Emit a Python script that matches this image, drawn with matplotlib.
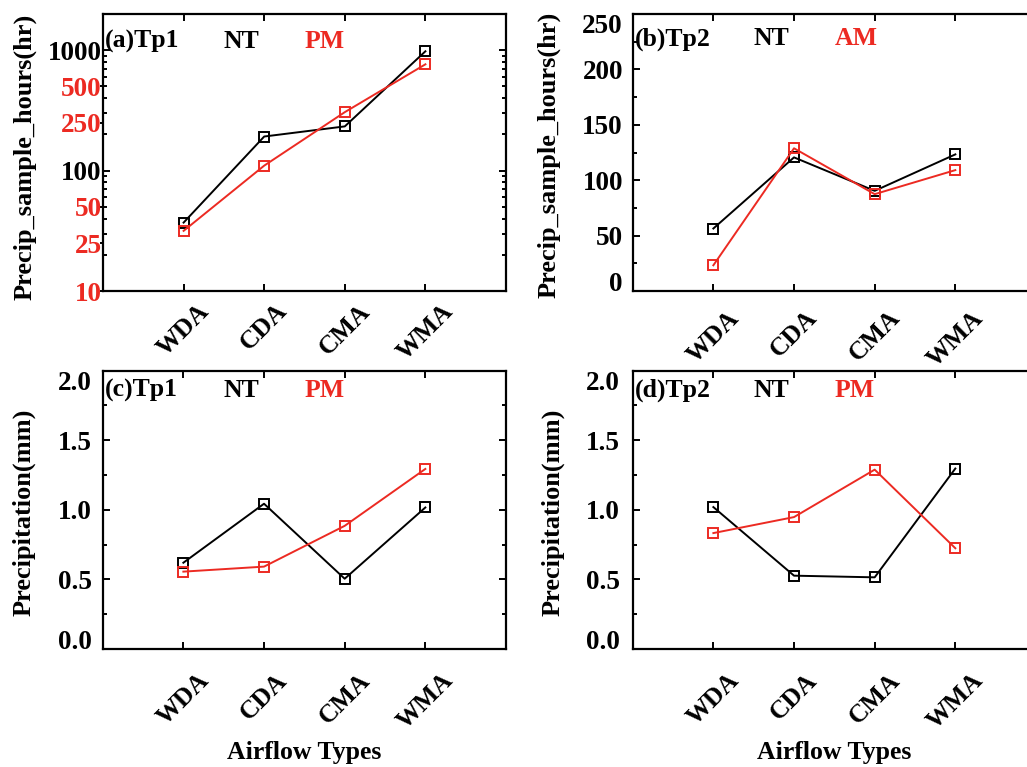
import numpy as np
import matplotlib
matplotlib.use("Agg")
import matplotlib.pyplot as plt
from matplotlib import lines as mlines
from matplotlib.ticker import FixedLocator, LogLocator, NullFormatter

plt.rcParams['font.family'] = ['Liberation Serif', 'DejaVu Serif']
plt.rcParams['font.weight'] = 'bold'

RED = '#ec2a22'
W, H = 1027, 767

# data
airflow_types = ['WDA', 'CDA', 'CMA', 'WMA']

tp1_hours_nt = [37, 192, 233, 980]
tp1_hours_pm = [31.6, 110, 306, 764]
tp2_hours_nt = [56.4, 120.6, 90.4, 123.3]
tp2_hours_am = [23.2, 128.8, 87.4, 109.1]
tp1_precip_nt = [0.62, 1.044, 0.505, 1.017]
tp1_precip_pm = [0.556, 0.592, 0.885, 1.294]
tp2_precip_nt = [1.02, 0.527, 0.515, 1.297]
tp2_precip_pm = [0.833, 0.948, 1.289, 0.724]

log_ticks = [10, 25, 50, 100, 250, 500, 1000]
log_black = [100, 1000]
hour_ticks = [0, 50, 100, 150, 200, 250]
precip_ticks = [0.0, 0.5, 1.0, 1.5, 2.0]


def px_axes(fig, left, top, right, bottom):
    return fig.add_axes([left / W, 1 - bottom / H, (right - left) / W, (bottom - top) / H])


def style_axes(ax, xpad):
    x = np.arange(1, len(airflow_types) + 1)
    ax.set_xlim(0, 5)
    ax.set_xticks(x)
    ax.set_xticklabels(airflow_types, rotation=45, ha='center', fontsize=18.5)
    ax.tick_params(axis='x', direction='in', top=True, length=5, width=1.4, pad=xpad)
    ax.tick_params(axis='y', which='both', direction='in', right=True, width=1.4)
    ax.tick_params(axis='y', which='major', length=5, labelsize=19.5)
    ax.tick_params(axis='y', which='minor', length=3)
    for sp in ax.spines.values():
        sp.set_linewidth(1.6)


def draw_lines(ax, black, red):
    x = np.arange(1, len(airflow_types) + 1)
    ax.plot(x, black, color='black', lw=1.4, marker='s', ms=7, mfc='none', mew=1.4)
    ax.plot(x, red, color=RED, lw=1.4, marker='s', ms=7, mfc='none', mew=1.4)


def panel_text(ax, y, tag, red_name):
    ax.text(0.005, y, tag, transform=ax.transAxes, ha='left', va='center', fontsize=18.5)
    ax.text(0.30, y, 'NT', transform=ax.transAxes, ha='left', va='center', fontsize=18.5)
    ax.text(0.50, y, red_name, transform=ax.transAxes, ha='left', va='center', fontsize=18.5, color=RED)


def linear_y(ax, ticks, minor_step, fmt, pad):
    ax.set_ylim(ticks[0], ticks[-1])
    ax.yaxis.set_major_locator(FixedLocator(ticks))
    ax.yaxis.set_minor_locator(FixedLocator(np.arange(ticks[0], ticks[-1] + 1e-9, minor_step)))
    ax.set_yticklabels([fmt % v for v in ticks])
    ax.tick_params(axis='y', which='major', pad=pad)
    tks = ax.yaxis.get_major_ticks(len(ticks))
    tks[0].label1.set_verticalalignment('baseline')
    tks[-1].label1.set_verticalalignment('top')


fig = plt.figure(figsize=(W / 100, H / 100), dpi=100)

# (a) Tp1 sample hours, log axis
ax = px_axes(fig, 103, 14, 506, 291)
style_axes(ax, 6)
ax.set_yscale('log')
ax.set_ylim(10, 2000)
ax.yaxis.set_major_locator(FixedLocator(log_ticks))
ax.yaxis.set_minor_locator(LogLocator(base=10, subs=np.arange(2, 10)))
ax.yaxis.set_minor_formatter(NullFormatter())
ax.yaxis.remove_overlapping_locs = False
ax.set_yticklabels([str(v) for v in log_ticks])
ax.tick_params(axis='y', which='major', pad=1)
for tk, v in zip(ax.yaxis.get_major_ticks(len(log_ticks)), log_ticks):
    if v not in log_black:
        tk.label1.set_color(RED)
        tk.tick1line.set_color(RED)
        tk.tick1line.set_marker(mlines.TICKLEFT)
        tk.tick1line.set_markersize(2.5)
        tk.tick2line.set_visible(False)
draw_lines(ax, tp1_hours_nt, tp1_hours_pm)
panel_text(ax, 0.9, '(a)Tp1', 'PM')

# (b) Tp2 sample hours
ax = px_axes(fig, 632.7, 14, 1036, 291)
style_axes(ax, 11)
linear_y(ax, hour_ticks, 25, '%d', 7)
draw_lines(ax, tp2_hours_nt, tp2_hours_am)
panel_text(ax, 0.91, '(b)Tp2', 'AM')

# (c) Tp1 precipitation
ax = px_axes(fig, 102.7, 370.7, 506, 649)
style_axes(ax, 14)
linear_y(ax, precip_ticks, 0.25, '%.1f', 8)
draw_lines(ax, tp1_precip_nt, tp1_precip_pm)
panel_text(ax, 0.93, '(c)Tp1', 'PM')

# (d) Tp2 precipitation
ax = px_axes(fig, 632.7, 370.7, 1036, 649)
style_axes(ax, 14)
linear_y(ax, precip_ticks, 0.25, '%.1f', 9)
draw_lines(ax, tp2_precip_nt, tp2_precip_pm)
panel_text(ax, 0.93, '(d)Tp2', 'PM')

# axis titles
for xc, yc, s in [(25, 157, 'Precip_sample_hours(hr)'), (549, 155, 'Precip_sample_hours(hr)'),
                  (24, 512, 'Precipitation(mm)'), (553, 512, 'Precipitation(mm)')]:
    fig.text(xc / W, 1 - yc / H, s, rotation=90, ha='center', va='center', fontsize=19)
for xc in [304, 834]:
    fig.text(xc / W, 1 - 753 / H, 'Airflow Types', ha='center', va='center', fontsize=18.5)

fig.savefig('out.png', dpi=100)
